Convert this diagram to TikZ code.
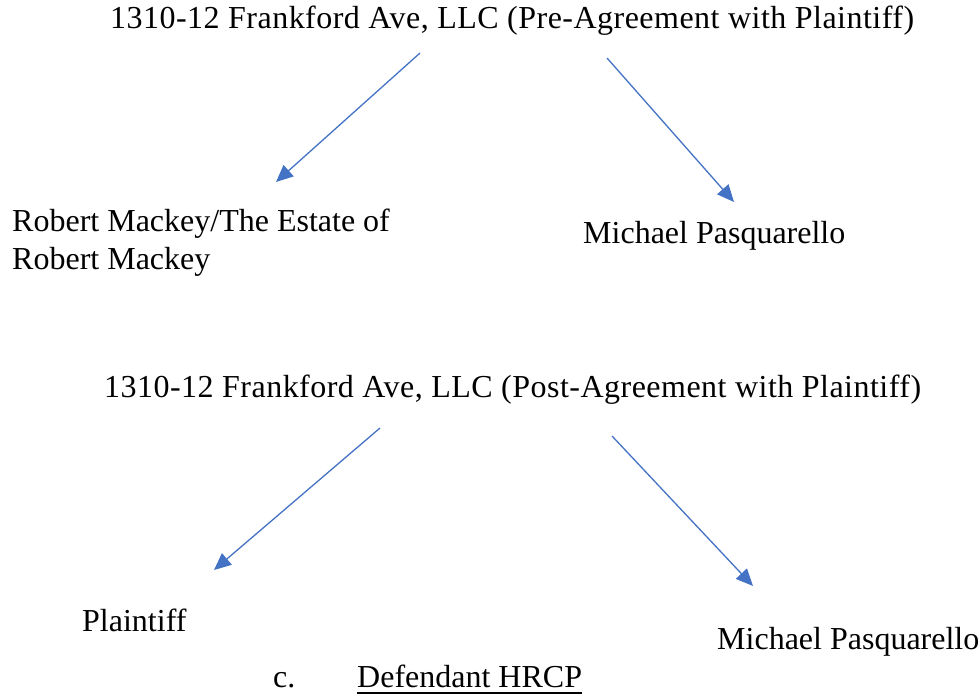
\documentclass[tikz,border=0pt]{standalone}
\usepackage{fontspec}
\setmainfont{Liberation Serif}
\usetikzlibrary{arrows.meta}
\definecolor{wordblue}{HTML}{4472C4}
\newcommand{\widesp}{\addfontfeature{LetterSpace=1.5}}
\tikzset{
  lbl/.style={anchor=base west, inner sep=0pt, font=\fontsize{32pt}{38pt}\selectfont},
  link/.style={draw=wordblue, line width=1.3pt, -{Triangle[length=17pt,width=15pt]}},
}
\begin{document}
\begin{tikzpicture}[x=1pt,y=-1pt]
\useasboundingbox (0,0) rectangle (980,698);
\node[lbl] (pre) at (110,29) {\widesp 1310-12 Frankford Ave, LLC (Pre-Agreement with Plaintiff)};
\node[lbl, align=left] (rm) at (12,269) {Robert Mackey/The Estate of\\Robert Mackey};
\node[lbl] (mp1) at (583,243) {Michael Pasquarello};
\node[lbl] (post) at (104,397) {\widesp 1310-12 Frankford Ave, LLC (Post-Agreement with Plaintiff)};
\node[lbl] (pl) at (82,631) {Plaintiff};
\node[lbl] (mp2) at (717,649) {Michael Pasquarello};
\node[lbl] (c) at (273,687) {c.};
\node[lbl] (hrcp) at (357,687) {Defendant HRCP};
\draw[line width=1.8pt] ([yshift=-6pt]hrcp.base west) -- ([yshift=-6pt]hrcp.base east);
\coordinate (a1) at (420,53);
\coordinate (b1) at (276,182);
\coordinate (a2) at (607,58);
\coordinate (b2) at (734,202);
\coordinate (a3) at (380,428);
\coordinate (b3) at (214,570);
\coordinate (a4) at (612,436);
\coordinate (b4) at (753,586);
\draw[link] (a1) -- (b1);
\draw[link] (a2) -- (b2);
\draw[link] (a3) -- (b3);
\draw[link] (a4) -- (b4);
\end{tikzpicture}
\end{document}
